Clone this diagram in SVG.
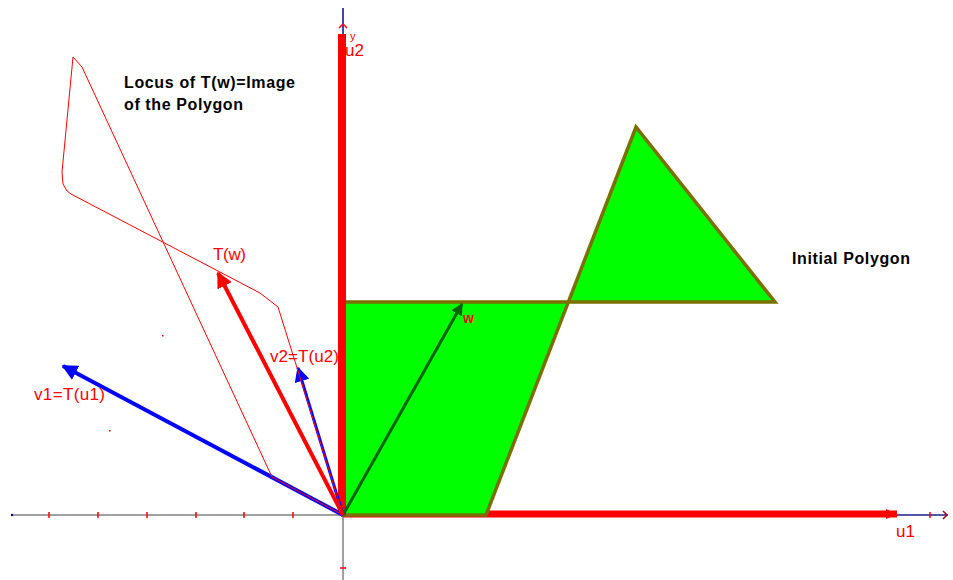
<svg xmlns="http://www.w3.org/2000/svg" width="953" height="580" viewBox="0 0 953 580">
<defs>
<style>
.lbl{font-family:"Liberation Sans",Arial,sans-serif;fill:#ff0000;font-size:16px}
.note{font-family:"Liberation Sans",Arial,sans-serif;fill:#000;font-size:16px;font-weight:bold}
.tick{stroke:#ff0000;stroke-width:1.5}
</style>
<marker id="ar" viewBox="0 0 10 10" refX="9" refY="5" markerWidth="4" markerHeight="4" orient="auto" markerUnits="strokeWidth"><path d="M0,0 L10,5 L0,10 z" fill="#ff0000"/></marker>
<marker id="ab" viewBox="0 0 10 10" refX="9" refY="5" markerWidth="4" markerHeight="4" orient="auto" markerUnits="strokeWidth"><path d="M0,0 L10,5 L0,10 z" fill="#0000ff"/></marker>
<marker id="ag" viewBox="0 0 10 10" refX="9" refY="5" markerWidth="4" markerHeight="4" orient="auto" markerUnits="strokeWidth"><path d="M0,0 L10,5 L0,10 z" fill="#006400"/></marker>
<marker id="ab2" viewBox="0 0 10 10" refX="9" refY="5" markerWidth="5" markerHeight="5" orient="auto" markerUnits="strokeWidth"><path d="M0,0 L10,5 L0,10 z" fill="#0000ff"/></marker>
</defs>
<rect width="953" height="580" fill="#ffffff"/>
<g id="axes">
<line x1="12" y1="515" x2="897" y2="515" stroke="#a0a0a0" stroke-width="2"/>
<line x1="897" y1="515" x2="948" y2="515" stroke="#5555a5" stroke-width="2"/>
<line x1="343" y1="515" x2="343" y2="580" stroke="#a0a0a0" stroke-width="2"/>
<line x1="343" y1="35" x2="343" y2="8" stroke="#4444a8" stroke-width="2"/>
<circle cx="12" cy="515" r="1.2" fill="#000080"/>
<line class="tick" x1="49" y1="512" x2="49" y2="518"/>
<line class="tick" x1="98" y1="512" x2="98" y2="518"/>
<line class="tick" x1="147" y1="512" x2="147" y2="518"/>
<line class="tick" x1="196" y1="512" x2="196" y2="518"/>
<line class="tick" x1="244" y1="512" x2="244" y2="518"/>
<line class="tick" x1="293" y1="512" x2="293" y2="518"/>
<line class="tick" x1="930" y1="512" x2="930" y2="518"/>
<line class="tick" x1="340" y1="568" x2="346" y2="568"/>
<path d="M943,511 L947,515 L943,519" fill="none" stroke="#a00020" stroke-width="1.5"/>
<path d="M339,28 L343,24 L347,28" fill="none" stroke="#ff0000" stroke-width="1.5"/>
</g>
<g id="u1">
<line x1="343" y1="514" x2="897" y2="514" stroke="#ff0000" stroke-width="7"/>
<path d="M886,509 L897,514 L886,519 Z" fill="#ff0000"/>
</g>
<g id="polygon">
<path d="M343,515 L486,515 L636,127 L775,302 L343,302 Z" fill="#00ff00" stroke="#7a7000" stroke-width="3.5" stroke-linejoin="miter"/>
</g>
<g id="u2">
<line x1="342" y1="515" x2="342" y2="34" stroke="#ff0000" stroke-width="8"/>
</g>
<g id="connectors">
<line x1="343" y1="515" x2="462" y2="304" stroke="#006400" stroke-width="3" marker-end="url(#ag)"/>
<line x1="343" y1="515" x2="63" y2="366" stroke="#0000ff" stroke-width="4" marker-end="url(#ab)"/>
<line x1="343" y1="515" x2="298" y2="368" stroke="#0000ff" stroke-width="3" marker-end="url(#ab2)"/>
<line x1="343" y1="515" x2="218" y2="273" stroke="#ff0000" stroke-width="4" marker-end="url(#ar)"/>
<path d="M343,515 L272,477 L82,67 L73,57 L62,172 L63,184 L67,191 L71,194 L260,293 L278,307 Z" fill="none" stroke="#ff0000" stroke-width="1"/>
<rect x="162" y="335" width="1.5" height="1.5" fill="#ff0000"/>
<rect x="109" y="430" width="1.5" height="1.5" fill="#ff0000"/>
</g>
<g id="labels">
<text class="lbl" x="350" y="40" style="font-size:11px">y</text>
<text class="lbl" x="345" y="56" style="font-size:17px">u2</text>
<text class="lbl" x="896" y="537" style="font-size:17px">u1</text>
<text class="lbl" x="213" y="260" textLength="33" style="font-size:17px">T(w)</text>
<text class="lbl" x="270" y="362" textLength="69" style="font-size:17px">v2=T(u2)</text>
<text class="lbl" x="34" y="400" textLength="71" style="font-size:17px">v1=T(u1)</text>
<text class="lbl" x="463" y="323" style="font-size:14px;font-weight:bold">w</text>
<text class="note" x="124" y="88" textLength="171">Locus of T(w)=Image</text>
<text class="note" x="124" y="110" textLength="119">of the Polygon</text>
<text class="note" x="792" y="264" textLength="118">Initial Polygon</text>
</g>
</svg>
